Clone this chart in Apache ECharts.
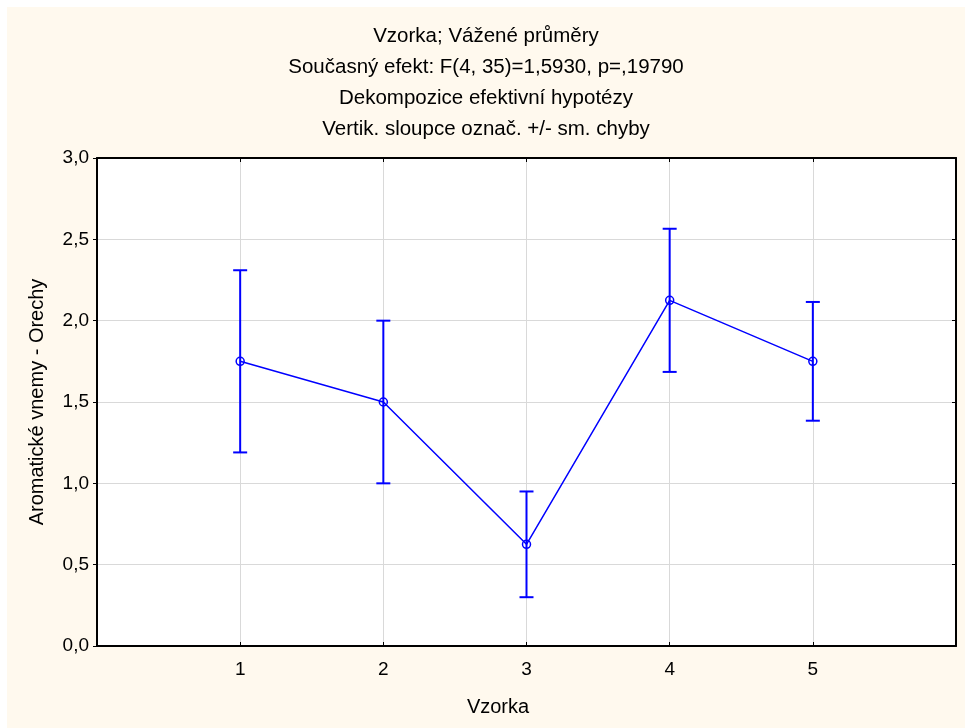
<!DOCTYPE html>
<html>
<head>
<meta charset="utf-8">
<script src="https://cdn.jsdelivr.net/npm/echarts@6/dist/echarts.min.js"></script>
<style>
html, body { margin: 0; padding: 0; background: #fff; }
#chart { position: absolute; left: 7px; top: 7px; width: 958px; height: 721px; }
</style>
</head>
<body>
<div id="chart"></div>
<script>
// data
var titleLines = [
  'Vzorka; Vážené průměry',
  'Současný efekt: F(4, 35)=1,5930, p=,19790',
  'Dekompozice efektivní hypotézy',
  'Vertik. sloupce označ. +/- sm. chyby'
];
var samples = [1, 2, 3, 4, 5];
var means = [1.75, 1.5, 0.625, 2.125, 1.75];
var lower = [1.19, 1.0, 0.30, 1.685, 1.385];
var upper = [2.31, 2.0, 0.95, 2.565, 2.115];

var blue = '#0000ff';
var font = 'Liberation Sans, Arial, sans-serif';

var chart = echarts.init(document.getElementById('chart'));

function czNum(v) {
  return v.toFixed(1).replace('.', ',');
}

// black frame round the plot, drawn by all four axes
var frameLine = { show: true, onZero: false, lineStyle: { color: '#000', width: 2 } };
var tickStyle = { color: '#000', width: 1 };

var option = {
  backgroundColor: '#fff9ee',
  textStyle: { fontFamily: font, color: '#000' },
  title: {
    text: titleLines.join('\n'),
    left: 'center',
    top: 14,
    padding: 0,
    textStyle: { fontSize: 20.5, fontWeight: 'normal', color: '#000', lineHeight: 31, fontFamily: font }
  },
  graphic: [{
    type: 'text',
    x: 491,
    y: 700,
    style: { text: 'Vzorka', fill: '#000', font: '20px ' + font, align: 'center', verticalAlign: 'middle' }
  }],
  grid: {
    left: 90, right: 9, top: 151, bottom: 82,
    show: true, backgroundColor: '#fff', borderWidth: 0,
    outerBoundsMode: 'none'
  },
  xAxis: [{
    type: 'value', position: 'bottom', min: 0, max: 6, interval: 1,
    axisLine: frameLine,
    axisTick: { show: true, inside: true, length: 4, lineStyle: tickStyle },
    axisLabel: {
      margin: 14, fontSize: 19, color: '#000',
      formatter: function (v) { return (v >= 1 && v <= 5) ? String(v) : ''; }
    },
    splitLine: { show: true, lineStyle: { color: '#d9d9d9', width: 1 } }
  }, {
    type: 'value', position: 'top', min: 0, max: 6, interval: 1,
    axisLine: frameLine,
    axisTick: { show: true, inside: true, length: 4, lineStyle: tickStyle },
    axisLabel: { show: false },
    splitLine: { show: false }
  }],
  yAxis: [{
    type: 'value', position: 'left', min: 0, max: 3, interval: 0.5,
    name: 'Aromatické vnemy - Orechy',
    nameLocation: 'middle', nameGap: 50,
    nameTextStyle: { fontSize: 20, color: '#000' },
    axisLine: frameLine,
    axisTick: { show: true, inside: false, length: 4, lineStyle: tickStyle },
    axisLabel: { margin: 8, fontSize: 19, color: '#000', formatter: czNum },
    splitLine: { show: true, lineStyle: { color: '#d9d9d9', width: 1 } }
  }, {
    type: 'value', position: 'right', min: 0, max: 3, interval: 0.5,
    axisLine: frameLine,
    axisTick: { show: true, inside: true, length: 4, lineStyle: tickStyle },
    axisLabel: { show: false },
    splitLine: { show: false }
  }],
  series: [{
    // error bars: +/- standard error
    type: 'custom',
    xAxisIndex: 0, yAxisIndex: 0,
    data: samples.map(function (s, i) { return [s, lower[i], upper[i]]; }),
    encode: { x: 0, y: [1, 2] },
    renderItem: function (params, api) {
      var x = api.value(0);
      var lo = api.coord([x, api.value(1)]);
      var hi = api.coord([x, api.value(2)]);
      var w = 7;
      var st = { stroke: blue, lineWidth: 2 };
      return {
        type: 'group',
        children: [
          { type: 'line', shape: { x1: lo[0], y1: lo[1], x2: hi[0], y2: hi[1] }, style: st },
          { type: 'line', shape: { x1: hi[0] - w, y1: hi[1], x2: hi[0] + w, y2: hi[1] }, style: st },
          { type: 'line', shape: { x1: lo[0] - w, y1: lo[1], x2: lo[0] + w, y2: lo[1] }, style: st }
        ]
      };
    },
    silent: true,
    animation: false
  }, {
    type: 'line',
    xAxisIndex: 0, yAxisIndex: 0,
    data: samples.map(function (s, i) { return [s, means[i]]; }),
    symbol: 'circle',
    symbolSize: 8,
    lineStyle: { color: blue, width: 1.5 },
    itemStyle: { color: 'rgba(0,0,0,0)', borderColor: blue, borderWidth: 1.5 },
    z: 3,
    animation: false
  }]
};

chart.setOption(option);
</script>
</body>
</html>
